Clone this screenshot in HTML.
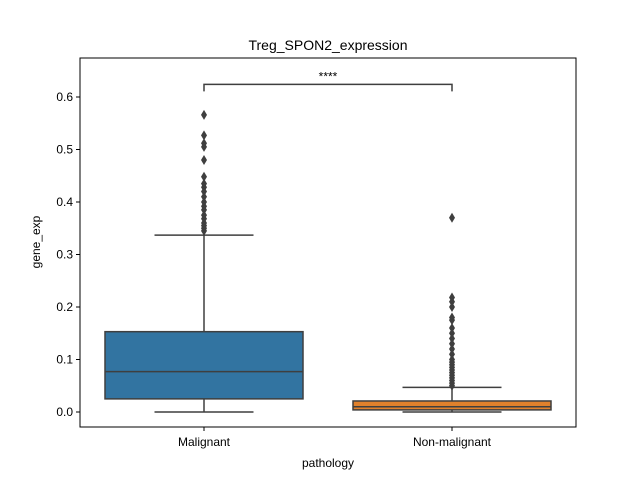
<!DOCTYPE html>
<html><head><meta charset="utf-8"><style>
body{margin:0;background:#fff}
svg{font-family:"Liberation Sans","DejaVu Sans",sans-serif}
</style></head><body>
<svg width="640" height="480">
<rect width="640" height="480" fill="#fff"/>
<g id="plot"></g>
<text x="328" y="50" font-size="14" text-anchor="middle">Treg_SPON2_expression</text>
<text x="328" y="467" font-size="12" text-anchor="middle">pathology</text>
<text transform="translate(40,242) rotate(-90)" font-size="12" text-anchor="middle">gene_exp</text>
</svg>
<script>
const categories=["Malignant","Non-malignant"];
const q1=[0.025,0.004];
const medians=[0.077,0.010];
const q3=[0.153,0.021];
const whiskLo=[0,0];
const whiskHi=[0.337,0.047];
const outliers=[
 [0.566,0.527,0.512,0.505,0.48,0.448,0.435,0.428,0.42,0.41,0.40,0.392,0.385,0.375,0.368,0.36,0.355,0.35,0.345],
 [0.37,0.218,0.21,0.20,0.18,0.175,0.16,0.15,0.14,0.13,0.12,0.11,0.10,0.095,0.09,0.085,0.08,0.075,0.07,0.065,0.06,0.055,0.05]
];
const yTicks=[0,0.1,0.2,0.3,0.4,0.5,0.6];
const yLabels=["0.0","0.1","0.2","0.3","0.4","0.5","0.6"];
const colors=["#3274a1","#e1812c"];
const L=80,R=576,T=58,B=427;
const y=v=>412-v*525;
const x=i=>L+(R-L)*(i+0.5)/categories.length;
const g=document.getElementById('plot');
const NS="http://www.w3.org/2000/svg";
function mk(t,a,name){const e=document.createElementNS(NS,t);for(const k in a)e.setAttribute(k,a[k]);


g.appendChild(e);return e;}
yTicks.forEach((v,i)=>{
 mk('line',{x1:L-4,x2:L,y1:y(v),y2:y(v),stroke:'#000'},'y-tick');
 const t=mk('text',{x:L-7,y:y(v)+4,'font-size':12,'text-anchor':'end'},'y-tick-label');t.textContent=yLabels[i];
});
const hw=99,lc='#3f3f3f';
categories.forEach((c,i)=>{
 const cx=x(i);
 mk('line',{x1:cx,x2:cx,y1:y(q3[i]),y2:y(whiskHi[i]),stroke:lc,'stroke-width':1.5},'whisker-upper');
 mk('line',{x1:cx,x2:cx,y1:y(q1[i]),y2:y(whiskLo[i]),stroke:lc,'stroke-width':1.5},'whisker-lower');
 mk('line',{x1:cx-hw/2,x2:cx+hw/2,y1:y(whiskHi[i]),y2:y(whiskHi[i]),stroke:lc,'stroke-width':1.5},'cap-upper');
 mk('line',{x1:cx-hw/2,x2:cx+hw/2,y1:y(whiskLo[i]),y2:y(whiskLo[i]),stroke:lc,'stroke-width':1.5},'cap-lower');
 mk('rect',{x:cx-hw,y:y(q3[i]),width:2*hw,height:y(q1[i])-y(q3[i]),fill:colors[i],stroke:lc,'stroke-width':1.5},'box-'+c.toLowerCase());
 mk('line',{x1:cx-hw,x2:cx+hw,y1:y(medians[i]),y2:y(medians[i]),stroke:lc,'stroke-width':1.5},'median-line');
 outliers[i].forEach(v=>{const yy=y(v);
  mk('polygon',{points:`${cx},${yy-5} ${cx+3},${yy} ${cx},${yy+5} ${cx-3},${yy}`,fill:lc},'outlier-point');});
 mk('line',{x1:cx,x2:cx,y1:B,y2:B+4,stroke:'#000'},'x-tick');
 const t=mk('text',{x:cx,y:B+19,'font-size':12,'text-anchor':'middle'},'x-tick-label');t.textContent=c;
});
mk('rect',{x:L,y:T,width:R-L,height:B-T,fill:'none',stroke:'#000','stroke-width':1},'plot-frame');
const by=y(0.624);
mk('polyline',{points:`${x(0)},${by+7} ${x(0)},${by} ${x(1)},${by} ${x(1)},${by+7}`,fill:'none',stroke:lc,'stroke-width':1.5},'significance-bracket');
const st=mk('text',{x:(x(0)+x(1))/2,y:by-4,'font-size':12,'text-anchor':'middle'},'significance-label');st.textContent="****";
</script>
</body></html>
